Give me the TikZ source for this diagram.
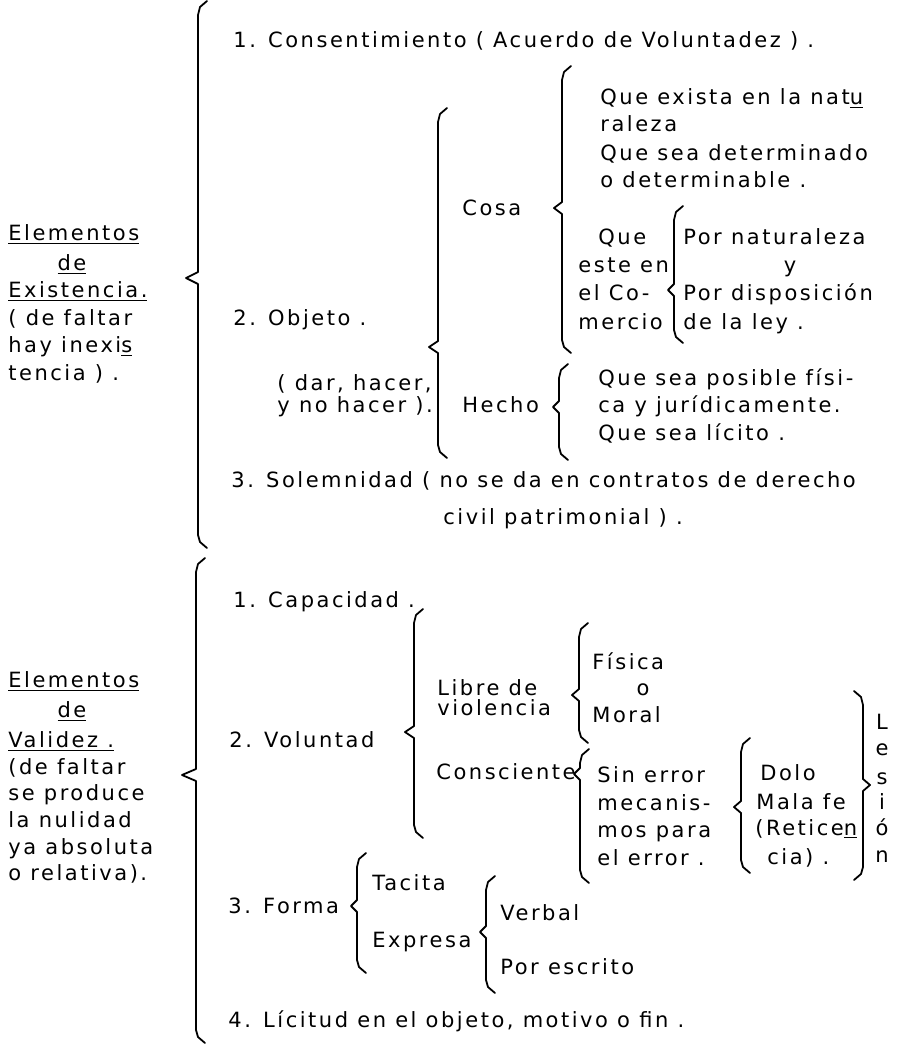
\documentclass[tikz,border=0pt]{standalone}
\usepackage{fontspec}
\newfontfamily\twfont{DejaVu Sans}[LetterSpace=12.0]

\begin{document}
\begin{tikzpicture}[x=0.5pt,y=-0.5pt]
\tikzset{txt/.style = {anchor=base west, inner sep=0pt, font=\twfont\fontsize{10.5}{13}\selectfont}}
\tikzset{ctxt/.style = {txt, anchor=base}}
\tikzset{brace/.style = {line width=0.9pt, line join=round, line cap=round}}
% left brace: x, top, middle, bottom, depth of the point
\def\brc#1#2#3#4#5{\draw[brace] (#1+9,#2-4) -- (#1+2,#2+2) -- (#1,#2+10) -- (#1,#3-6) -- (#1-#5,#3) -- (#1,#3+6) -- (#1,#4-10) -- (#1+2,#4-3) -- (#1+9,#4+3);}
% right brace
\def\rbrc#1#2#3#4#5{\draw[brace] (#1-9,#2-4) -- (#1-2,#2+2) -- (#1,#2+10) -- (#1,#3-6) -- (#1+#5,#3) -- (#1,#3+6) -- (#1,#4-10) -- (#1-2,#4-3) -- (#1-9,#4+3);}
\useasboundingbox (0,0) rectangle (899,1045);

% elementos de existencia
\node[txt](ex1) at (8,240) {\underline{Elementos}};
\node[ctxt](ex2) at (72,270) {\underline{de}};
\node[txt](ex3) at (8,297) {\underline{Existencia.}};
\node[txt](ex4) at (8,325) {( de faltar};
\node[txt](ex5) at (8,352) {hay inexi\underline{s}};
\node[txt](ex6) at (8,380) {tencia ) .};
\brc{198}{5}{278}{545}{12}

\node[txt](cons) at (233,47) {1. Consentimiento ( Acuerdo de Voluntadez ) .};
\node[txt](obj) at (233,325) {2. Objeto .};
\node[txt](obj1) at (277,390) {( dar, hacer,};
\node[txt](obj2) at (277,412) {y no hacer ).};
\brc{438}{112}{347}{455}{9}
\node[txt](sol1) at (231,487) {3. Solemnidad ( no se da en contratos de derecho};
\node[txt](sol2) at (443,524) {civil patrimonial ) .};

% cosa
\node[txt](cosa) at (462,215) {Cosa};
\brc{562}{70}{208}{350}{8}
\node[txt](cosa1) at (600,104) {Que exista en la nat\underline{u}};
\node[txt](cosa2) at (600,131) {raleza};
\node[txt](cosa3) at (600,160) {Que sea determinado};
\node[txt](cosa4) at (600,187) {o determinable .};
\node[txt](com1) at (598,244) {Que};
\node[txt](com2) at (578,272) {este en};
\node[txt](com3) at (578,300) {el Co-};
\node[txt](com4) at (578,329) {mercio};
\brc{674}{210}{290}{340}{6}
\node[txt](nat1) at (683,244) {Por naturaleza};
\node[ctxt](nat2) at (790,272) {y};
\node[txt](nat3) at (683,300) {Por disposición};
\node[txt](nat4) at (683,329) {de la ley .};

% hecho
\node[txt](hecho) at (462,412) {Hecho};
\brc{559}{368}{407}{457}{6}
\node[txt](hec1) at (598,385) {Que sea posible físi-};
\node[txt](hec2) at (598,412) {ca y jurídicamente.};
\node[txt](hec3) at (598,440) {Que sea lícito .};

% elementos de validez
\node[txt](va1) at (8,687) {\underline{Elementos}};
\node[ctxt](va2) at (72,717) {\underline{de}};
\node[txt](va3) at (8,747) {\underline{Validez .}};
\node[txt](va4) at (8,774) {(de faltar};
\node[txt](va5) at (8,800) {se produce};
\node[txt](va6) at (8,827) {la nulidad};
\node[txt](va7) at (8,854) {ya absoluta};
\node[txt](va8) at (8,880) {o relativa).};
\brc{196}{562}{775}{1040}{14}

\node[txt](cap) at (233,607) {1. Capacidad .};
\node[txt](vol) at (229,747) {2. Voluntad};
\brc{414}{613}{732}{835}{9}
\node[txt](lib1) at (437,695) {Libre de};
\node[txt](lib2) at (437,715) {violencia};
\brc{579}{627}{695}{740}{7}
\node[txt](fis1) at (592,669) {Física};
\node[ctxt](fis2) at (643,695) {o};
\node[txt](fis3) at (592,722) {Moral};
\node[txt](consc) at (436,779) {Consciente};
\brc{580}{753}{774}{880}{6}
\node[txt](err1) at (597,782) {Sin error};
\node[txt](err2) at (597,810) {mecanis-};
\node[txt](err3) at (597,837) {mos para};
\node[txt](err4) at (597,865) {el error .};
\brc{741}{742}{807}{870}{7}
\node[txt](dolo1) at (760,780) {Dolo};
\node[txt](dolo2) at (756,809) {Mala fe};
\node[txt](dolo3) at (755,835) {(Retice\underline{n}};
\node[txt](dolo4) at (767,864) {cia) .};
\rbrc{863}{695}{785}{877}{7}
\foreach \l/\y [count=\i] in {L/729, e/755, s/784, i/809, ó/835, n/862}
  \node[ctxt](les\i) at (882,\y) {\l};

\node[txt](forma) at (228,913) {3. Forma};
\brc{357}{857}{906}{970}{6}
\node[txt](tac) at (372,890) {Tacita};
\node[txt](expr) at (372,947) {Expresa};
\brc{486}{880}{932}{990}{6}
\node[txt](verb) at (500,920) {Verbal};
\node[txt](escr) at (500,974) {Por escrito};
\node[txt](lic) at (228,1027) {4. Lícitud en el objeto, motivo o fin .};
\end{tikzpicture}
\end{document}
